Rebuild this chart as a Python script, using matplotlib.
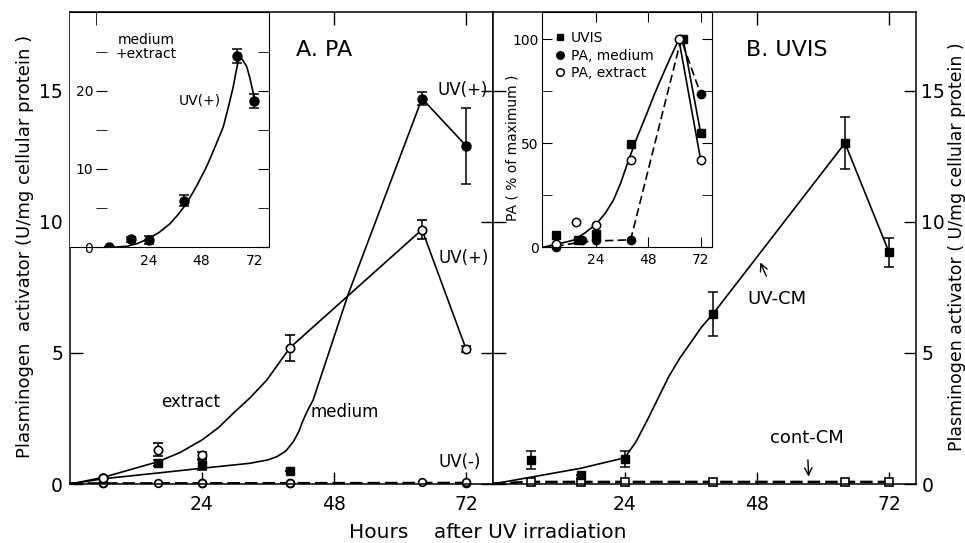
import matplotlib
matplotlib.use('Agg')
import matplotlib.pyplot as plt

# ---- A. PA, main panel (U/mg cellular protein) ----
# UV(+) medium
aMediumCircHours = [6, 64, 72]
aMediumCirc = [0.22, 14.7, 12.9]
aMediumCircErr = [0.0, 0.25, 1.45]
aMediumSqHours = [16, 24, 40]
aMediumSq = [0.81, 0.72, 0.51]
aMediumSqErr = [0.12, 0.19, 0.0]
# UV(+) extract
aExtractHours = [6, 16, 24, 40, 64, 72]
aExtract = [0.22, 1.3, 1.1, 5.2, 9.7, 5.15]
aExtractErr = [0.0, 0.25, 0.13, 0.5, 0.35, 0.1]
# hand drawn curves through the UV(+) points
aMediumCurveHours = [0, 6, 16, 24, 32.7, 36, 37.6, 39.2, 40.6, 41.6, 42.4, 43.3, 44.2,
                     50.6, 64, 72]
aMediumCurve = [0, 0.2, 0.42, 0.6, 0.79, 0.92, 1.04, 1.25, 1.61, 2.0, 2.44, 2.85, 3.2,
                7.25, 14.7, 12.9]
aExtractCurveHours = [0, 6, 16, 20, 24, 27, 29.7, 32.8, 35.8, 40, 64, 72]
aExtractCurve = [0, 0.25, 0.85, 1.2, 1.68, 2.15, 2.7, 3.3, 3.97, 5.2, 9.7, 5.15]
# UV(-)
aNegOpenHours = [6, 16, 24, 40, 64, 72]
aNegOpen = [0.05, 0.05, 0.05, 0.05, 0.06, 0.06]
aNegFilledHours = [6, 24, 40, 72]
aNegFilled = [0.03, 0.03, 0.03, 0.04]
aNegLineHours = [0, 72]
aNegLine = [0.02, 0.04]

# ---- A inset: medium + extract, UV(+) ----
insAHours = [6, 16, 24, 40, 64, 72]
insA = [0.1, 1.0, 0.93, 5.95, 24.45, 18.7]
insAErr = [0.0, 0.3, 0.5, 0.7, 0.9, 0.85]
insACurveHours = [6.4, 10, 14, 19, 23.8, 28.7, 33.6, 37.4, 41.2, 45.7, 50.3, 54.1, 57.9,
                  60.2, 62.4, 63.6, 64.7, 65.5, 66.5, 68.5, 70, 71.5, 72]
insACurve = [0, 0.05, 0.13, 0.5, 1.1, 1.9, 3.0, 4.2, 5.6, 7.8, 10.3, 12.8, 15.4,
             17.9, 20.5, 22.3, 23.8, 24.1, 24.0, 23.1, 21.6, 19.7, 18.7]

# ---- B. UVIS, main panel ----
bUvcmHours = [7, 16, 24, 40, 64, 72]
bUvcm = [0.92, 0.34, 0.94, 6.48, 13.0, 8.84]
bUvcmErr = [0.33, 0.0, 0.3, 0.83, 0.98, 0.55]
bUvcmCurveHours = [0, 16, 24, 26, 28, 30, 32, 34, 36, 38, 40, 64, 72]
bUvcmCurve = [0, 0.6, 1.0, 1.6, 2.4, 3.25, 4.1, 4.8, 5.4, 6.0, 6.48, 13.0, 8.84]
bContHours = [7, 16, 24, 40, 64, 72]
bCont = [0.08, 0.08, 0.08, 0.08, 0.08, 0.08]
bContLineHours = [0, 7, 16, 24, 40, 64, 72]
bContLine = [0.02, 0.08, 0.08, 0.08, 0.08, 0.08, 0.08]

# ---- B inset (% of maximum) ----
insBUvisHours = [6, 16, 24, 40, 64, 72]
insBUvis = [5.8, 3.4, 6.6, 49.5, 100, 54.7]
insBMediumHours = [6, 18, 24, 40, 63, 72]
insBMedium = [0, 3.4, 3.4, 3.4, 100, 73.6]
insBExtractHours = [6, 15, 24, 40, 62, 72]
insBExtract = [1.8, 12.2, 10.6, 41.8, 100, 41.8]
insBExtractCurveHours = [0, 6, 10, 13.8, 19, 24.5, 28.5, 32.1, 35.5, 39, 43, 47.4, 51,
                         54.9, 58.5, 62]
insBExtractCurve = [0, 1.5, 2.4, 3.4, 6.8, 11.4, 16.5, 22.6, 31, 41.8, 53, 64.3, 74,
                    83.5, 92, 100]
insBMediumCurveHours = [0, 6, 18, 24, 40, 63, 72]
insBMediumCurve = [0, 0.5, 2.6, 3.0, 3.6, 100, 73.6]

hourTicks = [24, 48, 72]

W, H = 965.0, 543.0

def figRect(x0, y0, x1, y1):
  # pixel box (top-left origin) -> figure fraction rect
  return [x0 / W, 1 - y1 / H, (x1 - x0) / W, (y1 - y0) / H]

fig = plt.figure(figsize=(9.65, 5.43), dpi=100)
fig.patch.set_facecolor('white')

axA = fig.add_axes(figRect(70, 12, 492.7, 484))
axB = fig.add_axes(figRect(492.7, 12, 915.7, 484))

K = 'black'
err = dict(ecolor=K, elinewidth=1.1, capsize=3.5, capthick=1.1, linestyle='none')

for ax in (axA, axB):
  ax.set_xlim(0, 76.85)
  ax.set_ylim(0, 18)
  ax.set_xticks(hourTicks)
  ax.set_yticks([0, 5, 10, 15])
  ax.tick_params(direction='in', length=9, width=1, top=True, right=True, left=True,
                 labelsize=13.5, pad=8)
  ax.tick_params(axis='y', pad=5)
  for s in ax.spines.values():
    s.set_linewidth(1.1)

axB.tick_params(axis='y', labelleft=False, labelright=True, pad=4)

# --- panel A ---
axA.plot(aMediumCurveHours, aMediumCurve, color=K, lw=1.2)
axA.plot(aExtractCurveHours, aExtractCurve, color=K, lw=1.2)
axA.plot(aNegLineHours, aNegLine, color=K, lw=1.8, dashes=(5, 2))
axA.errorbar(aMediumCircHours, aMediumCirc, yerr=aMediumCircErr, marker='o', ms=6.5,
             mfc=K, mec=K, **err)
axA.errorbar(aMediumSqHours, aMediumSq, yerr=aMediumSqErr, marker='s', ms=5.5,
             mfc=K, mec=K, **err)
axA.errorbar(aExtractHours, aExtract, yerr=aExtractErr, marker='o', ms=6,
             mfc='white', mec=K, mew=1.2, **err)
axA.plot(aNegFilledHours, aNegFilled, 'o', ms=6, color=K, clip_on=False)
axA.plot(aNegOpenHours, aNegOpen, 'o', ms=5.5, mfc='white', mec=K, mew=1.2, clip_on=False)

axA.text(46.2, 16.55, 'A. PA', fontsize=16, ha='center', va='center')
axA.text(71.4, 15.03, 'UV(+)', fontsize=12, ha='center', va='center')
axA.text(71.5, 8.62, 'UV(+)', fontsize=12, ha='center', va='center')
axA.text(70.9, 0.84, 'UV(-)', fontsize=12, ha='center', va='center')
axA.text(22, 3.13, 'extract', fontsize=12, ha='center', va='center')
axA.text(50, 2.75, 'medium', fontsize=12, ha='center', va='center')

# --- panel B ---
axB.plot(bUvcmCurveHours, bUvcmCurve, color=K, lw=1.2)
axB.plot(bContLineHours, bContLine, color=K, lw=1.8, dashes=(5, 2))
axB.errorbar(bUvcmHours, bUvcm, yerr=bUvcmErr, marker='s', ms=6, mfc=K, mec=K, **err)
axB.plot(bContHours, bCont, 's', ms=5.5, mfc='white', mec=K, mew=1.2, clip_on=False)

axB.text(53.4, 16.55, 'B. UVIS', fontsize=16, ha='center', va='center')
axB.annotate('UV-CM', xy=(48.6, 8.45), xytext=(51.6, 7.04), fontsize=13,
             ha='center', va='center',
             arrowprops=dict(arrowstyle='->', color=K, lw=1, shrinkA=9, shrinkB=0))
axB.annotate('cont-CM', xy=(57.4, 0.28), xytext=(57.1, 1.74), fontsize=13,
             ha='center', va='center',
             arrowprops=dict(arrowstyle='->', color=K, lw=1, shrinkA=7, shrinkB=0))

# --- inset A ---
insA_ax = fig.add_axes(figRect(70, 12, 269.3, 247.3))
insA_ax.set_facecolor('white')
insA_ax.set_xlim(-11.8, 78.8)
insA_ax.set_ylim(0, 30.05)
insA_ax.spines['left'].set_position(('data', 0))
insA_ax.spines['left'].set_color('none')
insA_ax.set_xticks(hourTicks)
insA_ax.set_xticks([0, 48], minor=True)
insA_ax.set_yticks([0, 10, 20])
insA_ax.set_yticks([5, 15, 25], minor=True)
insA_ax.tick_params(axis='x', which='major', length=0, labelsize=10, pad=5)
insA_ax.tick_params(axis='x', which='minor', bottom=False, top=True, direction='in', length=9)
insA_ax.tick_params(axis='y', which='both', direction='in', length=8, left=True, right=True,
                    labelsize=10, pad=2)
insA_ax.plot(insACurveHours, insACurve, color=K, lw=1.2)
insA_ax.errorbar(insAHours, insA, yerr=insAErr, marker='o', ms=6.5, mfc=K, mec=K,
                 **err)
insA_ax.text(22.7, 25.6, 'medium\n+extract', fontsize=10, ha='center', va='center',
             linespacing=1.0)
insA_ax.text(47.3, 18.8, 'UV(+)', fontsize=10, ha='center', va='center')

# --- inset B ---
insB_ax = fig.add_axes(figRect(541.7, 12, 711.7, 247.3))
insB_ax.set_facecolor('white')
insB_ax.set_xlim(-0.6, 77)
insB_ax.set_ylim(0, 113.1)
insB_ax.set_xticks(hourTicks)
insB_ax.set_yticks([0, 50, 100])
insB_ax.set_yticks([25, 75], minor=True)
insB_ax.tick_params(axis='both', which='both', direction='in', length=7, top=True,
                    right=True, labelsize=10)
insB_ax.tick_params(axis='x', pad=4)
insB_ax.tick_params(axis='y', pad=2)
insB_ax.plot(insBExtractCurveHours, insBExtractCurve, color=K, lw=1.2)
insB_ax.plot(insBUvisHours[-2:], insBUvis[-2:], color=K, lw=1.2)
insB_ax.plot(insBExtractHours[-2:], insBExtract[-2:], color=K, lw=1.2)
insB_ax.plot(insBMediumCurveHours, insBMediumCurve, color=K, lw=1.2, dashes=(5, 2.5))
hUvis, = insB_ax.plot(insBUvisHours, insBUvis, 's', ms=5.5, color=K, clip_on=False)
hMed, = insB_ax.plot(insBMediumHours, insBMedium, 'o', ms=6, color=K, clip_on=False)
hExt, = insB_ax.plot(insBExtractHours, insBExtract, 'o', ms=6, mfc='white', mec=K,
                     mew=1.1, clip_on=False)
insB_ax.text(-0.169, 0.424, 'PA ( % of maximum )', fontsize=10, rotation=90,
             ha='center', va='center', transform=insB_ax.transAxes)
insB_ax.legend([hUvis, hMed, hExt], ['UVIS', 'PA, medium', 'PA, extract'],
               loc='upper left', bbox_to_anchor=(0.065, 0.925), frameon=False,
               fontsize=10, handlelength=0.8, handletextpad=0.4, labelspacing=0.25,
               borderaxespad=0, borderpad=0.1, markerscale=0.9)

# --- axis titles ---
fig.text(25 / W, 1 - 246 / H, 'Plasminogen  activator (U/mg cellular protein )',
         rotation=90, ha='center', va='center', fontsize=13)
fig.text(957 / W, 1 - 247 / H, 'Plasminogen activator ( U/mg cellular protein )',
         rotation=90, ha='center', va='center', fontsize=12.5)
fig.text(487.5 / W, 1 - 533 / H, 'Hours    after UV irradiation', ha='center',
         va='center', fontsize=14.5)

fig.savefig('out.png', dpi=100, facecolor='white')
